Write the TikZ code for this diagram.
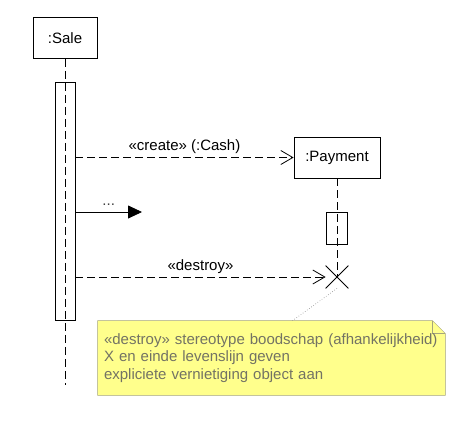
\documentclass[tikz,border=0pt]{standalone}
\usepackage{fontspec}
\setmainfont{Liberation Sans}
\usepackage{tikz}
\usetikzlibrary{calc,shapes,positioning,arrows.meta,backgrounds}
\definecolor{notefill}{RGB}{255,255,140}
\definecolor{noteline}{RGB}{165,165,125}
\definecolor{notetext}{RGB}{115,115,100}

\begin{document}
\begin{tikzpicture}[x=1pt, y=-1pt, line width=0.8pt,
    font=\fontsize{15}{17.5}\selectfont,
    >={Straight Barb[length=12pt,width=14pt]},
    obj/.style={draw, rectangle, minimum height=41pt, inner sep=0pt},
    actbar/.style={draw, rectangle, minimum width=20pt, inner sep=0pt},
    lifeline/.style={dash pattern=on 8pt off 4pt},
    msg/.style={->, dash pattern=on 8pt off 4pt}]
  \useasboundingbox (0,0) rectangle (456,424);
  % objects and lifelines
  \node[obj, minimum width=64pt] (sale) at (65,38) {:Sale};
  \node[obj, minimum width=86pt] (pay) at (337,157.5) {:Payment};
  \node[actbar, minimum height=238pt] (act) at (65,201) {};
  \node[actbar, minimum width=21pt, minimum height=32pt] (payact) at (336.5,228) {};
  \node[draw, cross out, minimum size=22pt, inner sep=0pt] (end) at (337,277) {};
  \coordinate (saleend) at (65,385);
  \coordinate (dots) at (142,212);
  \draw[lifeline] (sale) -- (saleend);
  \draw[lifeline] (pay) -- (end.center);
  % messages
  \path[msg]
    (act.east |- pay) edge node[above] {«create» (:Cash)} (pay)
    (act.east |- end) edge node[above] {«destroy»} (end.west)
    ;
  \draw[-{Triangle[length=14pt,width=13pt]}] (act.east |- dots) -- node[above=3pt, text=darkgray] {...} (dots);
  % note
  \node[align=left, text width=335pt, inner xsep=6pt, minimum height=74pt, text=notetext] (note) at (271.5,358)
    {«destroy» stereotype boodschap (afhankelijkheid)\\X en einde levenslijn geven\\expliciete vernietiging object aan};
  \begin{pgfonlayer}{background}
    \draw[noteline, fill=notefill] (note.north west) -- ($(note.north east)+(-13,0)$) -- ($(note.north east)+(0,13)$)
      -- (note.south east) -- (note.south west) -- cycle;
    \draw[noteline] ($(note.north east)+(-13,0)$) |- ($(note.north east)+(0,13)$);
  \end{pgfonlayer}
  \draw[dotted, line width=0.6pt, gray] (end.south) -- ($(note.north west)+(195,0)$);
\end{tikzpicture}
\end{document}
